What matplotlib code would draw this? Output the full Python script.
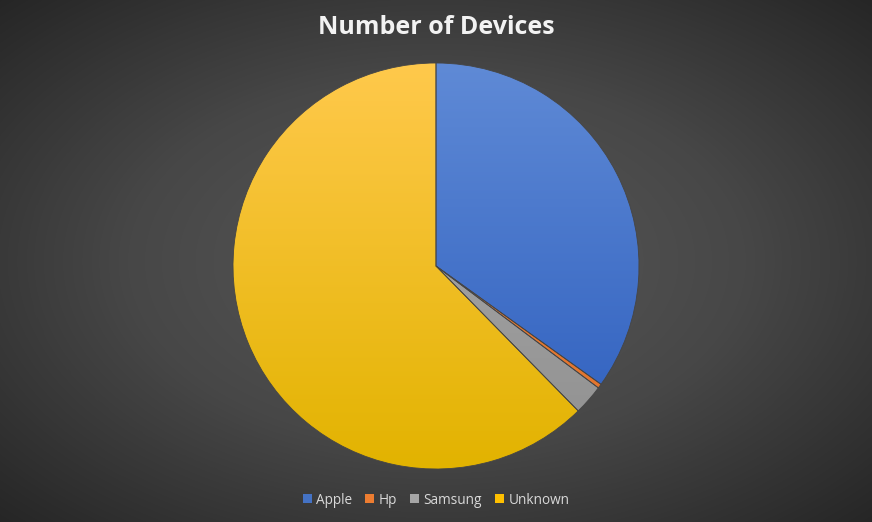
import numpy as np
import matplotlib
matplotlib.use("Agg")
from matplotlib import pyplot as plt
from matplotlib.colors import LinearSegmentedColormap
from matplotlib.patches import Patch

brands = ["Apple", "Hp", "Samsung", "Unknown"]
shares = [34.9, 0.35, 2.4, 62.35]
top_colors = ["#5f8ad6", "#f08a40", "#b0b0b0", "#ffc94c"]
bottom_colors = ["#2c5dbd", "#e0702a", "#8f8f8f", "#e2b300"]
legend_colors = ["#4472c4", "#ed7d31", "#a5a5a5", "#ffc000"]

W, H = 872, 522
fig = plt.figure(figsize=(W / 100, H / 100), dpi=100)

# radial background
bg = fig.add_axes([0, 0, 1, 1])
yy, xx = np.mgrid[0:H, 0:W]
r = np.sqrt(((xx - W / 2) / (W / 2)) ** 2 + ((yy - H / 2) / (H / 2)) ** 2) / np.sqrt(2)
bg_cmap = LinearSegmentedColormap.from_list("bg", ["#595959", "#474747", "#262626"])
bg.imshow(r, cmap=bg_cmap, vmin=0, vmax=1, aspect="auto", extent=[0, 1, 0, 1])
bg.axis("off")

cx, cy, rad = 436, 266, 203
ax = fig.add_axes([(cx - rad) / W, (H - cy - rad) / H, 2 * rad / W, 2 * rad / H])
wedges, _ = ax.pie(shares, startangle=90, counterclock=False,
                   colors=legend_colors,
                   wedgeprops=dict(edgecolor="#454545", linewidth=0.6))
ax.set_aspect("equal")
ax.axis("off")

# vertical gradient fill inside each wedge
grad = np.linspace(1, 0, 256).reshape(-1, 1)
for w, c1, c2 in zip(wedges, top_colors, bottom_colors):
    cm = LinearSegmentedColormap.from_list("w", [c2, c1])
    im = ax.imshow(grad, cmap=cm, extent=[-1, 1, -1, 1], aspect="auto",
                   origin="upper", zorder=w.get_zorder() + 0.1)
    im.set_clip_path(w)
for w in wedges:
    w.set_facecolor("none")
    w.set_zorder(5)
ax.set_xlim(-1.0, 1.0)
ax.set_ylim(-1.0, 1.0)

fig.text(0.5, 1 - 27 / H, "Number of Devices", ha="center", va="center",
         color="#f2f2f2", fontsize=18, fontweight="bold", family="Open Sans")

handles = [Patch(facecolor=c, edgecolor="none") for c in legend_colors]
fig.legend(handles, brands, loc="center", bbox_to_anchor=(0.5, 1 - 500 / H),
           ncol=4, frameon=False, handlelength=0.65, handleheight=0.65,
           handletextpad=0.3, columnspacing=1.0,
           labelcolor="#d9d9d9", prop=dict(family="Open Sans", size=9.8))

fig.savefig("out.png", dpi=100)
